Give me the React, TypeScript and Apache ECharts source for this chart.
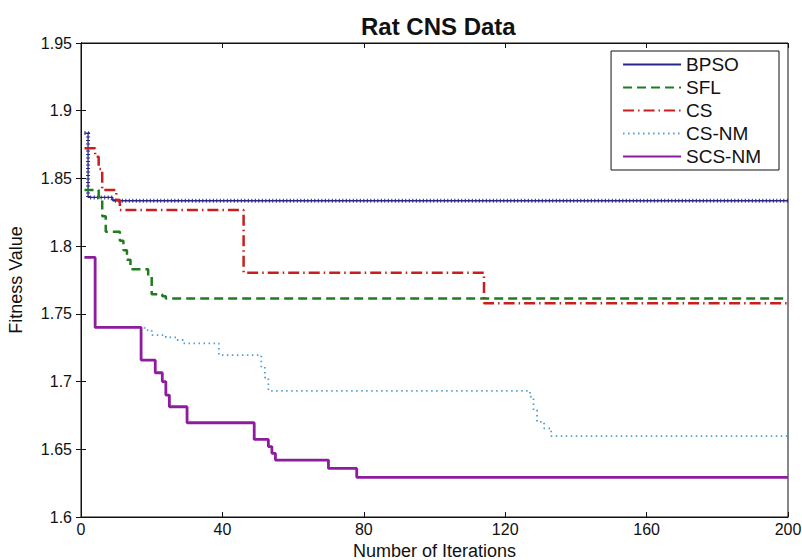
import { useEffect, useRef } from 'react';
import * as echarts from 'echarts';

const FONT = '"Liberation Sans", Arial, Helvetica, sans-serif';

const titleText = 'Rat CNS Data';
const xAxisTitle = 'Number of Iterations';
const yAxisTitle = 'Fitness Value';
const seriesNames = ['BPSO', 'SFL', 'CS', 'CS-NM', 'SCS-NM'];

// axis ranges / ticks
const xMin = 0;
const xMax = 200;
const xInterval = 40;
const yMin = 1.6;
const yMax = 1.95;
const yInterval = 0.05;

// [iteration at which the best fitness changes, new best fitness]
const bpso: [number, number][] = [[1, 1.8835], [2, 1.836], [9, 1.8335], [200, 1.8335]];
const sfl: [number, number][] = [
  [1, 1.8414], [5, 1.8355], [6, 1.822], [7, 1.8106], [11, 1.804], [12, 1.797], [13, 1.79],
  [14, 1.783], [19, 1.778], [20, 1.7644], [23, 1.763], [24, 1.7614], [200, 1.7614],
];
const cs: [number, number][] = [
  [1, 1.8722], [4, 1.866], [5, 1.857], [6, 1.8414], [10, 1.834], [11, 1.8267],
  [46, 1.7804], [114, 1.7578], [200, 1.7578],
];
const csnm: [number, number][] = [
  [1, 1.7917], [4, 1.74], [18, 1.738], [20, 1.7343], [24, 1.7326], [27, 1.7307], [29, 1.7282],
  [39, 1.7196], [51, 1.711], [52, 1.703], [53, 1.6932], [127, 1.6888], [128, 1.679],
  [129, 1.6703], [131, 1.6654], [133, 1.6597], [200, 1.6597],
];
const scsnm: [number, number][] = [
  [1, 1.7917], [4, 1.74], [17, 1.7159], [21, 1.7065], [23, 1.7], [24, 1.69], [25, 1.6814],
  [30, 1.6696], [49, 1.6573], [53, 1.652], [54, 1.647], [55, 1.642], [70, 1.6359],
  [78, 1.6293], [200, 1.6293],
];

const colors = ['#27278a', '#1e7d1e', '#c81e1e', '#4f9fd0', '#8e1c9e'];

export default function App() {
  const ref = useRef<HTMLDivElement>(null);
  useEffect(() => {
    if (!ref.current) return;
    const chart = echarts.init(ref.current, null, { renderer: 'svg' });
    const axisCommon = {
      type: 'value' as const,
      axisLine: { show: true, lineStyle: { color: '#111', width: 1 } },
      axisTick: { show: true, inside: true, length: 5, lineStyle: { color: '#111', width: 1 } },
      splitLine: { show: false },
    };
    chart.setOption({
      animation: false,
      backgroundColor: '#fff',
      title: {
        text: titleText,
        left: 356,
        top: 9,
        textStyle: { fontFamily: FONT, fontSize: 24, fontWeight: 'bold', color: '#111' },
      },
      grid: { left: 81, right: 14, top: 43, bottom: 43, show: true, borderColor: '#111', borderWidth: 1, containLabel: false, outerBoundsMode: 'none' },
      legend: {
        orient: 'vertical',
        right: 23,
        top: 51,
        backgroundColor: '#fff',
        borderColor: '#111',
        borderWidth: 1,
        borderRadius: 0,
        padding: [4, 18, 4, 11],
        itemGap: 4,
        itemWidth: 58,
        itemHeight: 19,
        itemStyle: { opacity: 0 },
        selectedMode: false,
        textStyle: { fontFamily: FONT, fontSize: 19, color: '#111' },
        data: seriesNames,
      },
      xAxis: [
        {
          ...axisCommon,
          min: xMin, max: xMax, interval: xInterval,
          name: xAxisTitle,
          nameLocation: 'middle',
          nameGap: 17,
          nameTextStyle: { fontFamily: FONT, fontSize: 18, color: '#111' },
          axisLabel: { fontFamily: FONT, fontSize: 16, color: '#111', margin: 4 },
        },
        {
          ...axisCommon,
          position: 'top',
          min: xMin, max: xMax, interval: xInterval,
          axisLabel: { show: false },
        },
      ],
      yAxis: [
        {
          ...axisCommon,
          min: yMin, max: yMax, interval: yInterval,
          name: yAxisTitle,
          nameLocation: 'middle',
          nameGap: 56,
          nameTextStyle: { fontFamily: FONT, fontSize: 18, color: '#111' },
          axisLabel: {
            fontFamily: FONT, fontSize: 16, color: '#111', margin: 9,
            formatter: (v: number) => String(+v.toFixed(2)),
          },
        },
        {
          ...axisCommon,
          position: 'right',
          min: yMin, max: yMax, interval: yInterval,
          axisLabel: { show: false },
        },
      ],
      series: [
        {
          name: 'BPSO', type: 'line', step: 'end', data: bpso, symbol: 'none',
          color: colors[0], lineStyle: { color: colors[0], width: 1.3 },
        },
        {
          name: 'BPSO markers', type: 'line', step: 'end', data: bpso, symbol: 'none',
          color: colors[0], lineStyle: { color: colors[0], width: 4, type: [1, 2.5] },
        },
        {
          name: 'SFL', type: 'line', step: 'end', data: sfl, symbol: 'none',
          color: colors[1], lineStyle: { color: colors[1], width: 2.5, type: [9, 5] },
        },
        {
          name: 'CS', type: 'line', step: 'end', data: cs, symbol: 'none',
          color: colors[2], lineStyle: { color: colors[2], width: 2.5, type: [11, 4, 1.5, 4] },
        },
        {
          name: 'CS-NM', type: 'line', step: 'end', data: csnm, symbol: 'none',
          color: colors[3], lineStyle: { color: colors[3], width: 1.8, type: [1.5, 3.5] },
        },
        {
          name: 'SCS-NM', type: 'line', step: 'end', data: scsnm, symbol: 'none',
          color: colors[4], lineStyle: { color: colors[4], width: 2.8 },
        },
      ],
    });
    return () => chart.dispose();
  }, []);
  return (
    <div
      ref={ref}
      style={{ position: 'fixed', left: 0, top: 0, width: 802, height: 560 }}
    />
  );
}
